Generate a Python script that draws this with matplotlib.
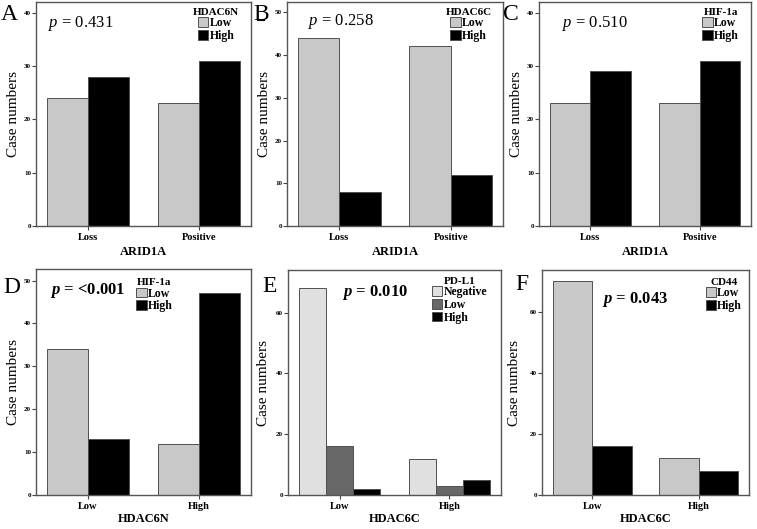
import matplotlib
matplotlib.use('Agg')
import matplotlib.pyplot as plt
from matplotlib.lines import Line2D
import numpy as np

plt.rcParams['font.family'] = ['Liberation Serif', 'DejaVu Serif']
plt.rcParams['mathtext.fontset'] = 'custom'
plt.rcParams['mathtext.rm'] = 'Liberation Serif'
plt.rcParams['mathtext.it'] = 'Liberation Serif:italic'
plt.rcParams['mathtext.bf'] = 'Liberation Serif:bold'
plt.rcParams['mathtext.bfit'] = 'Liberation Serif:italic:bold'

# Data per panel
cats_arid = ['Loss', 'Positive']
cats_hdac = ['Low', 'High']

a_low = [24, 23]
a_high = [28, 31]

b_low = [44, 42]
b_high = [8, 12]

c_low = [23, 23]
c_high = [29, 31]

d_low = [34, 12]
d_high = [13, 47]

e_neg = [68, 12]
e_low = [16, 3]
e_high = [2, 5]

f_low = [70, 12]
f_high = [16, 8]

W, H = 757, 529
fig = plt.figure(figsize=(W / 100, H / 100), dpi=100)

LIGHT = '#c8c8c8'
LIGHTER = '#e0e0e0'
DARK = '#686868'
BLACK = '#000000'
EDGE = '#505050'


def make_ax(x0, x1, y0, y1):
    return fig.add_axes([x0 / W, 1 - y1 / H, (x1 - x0) / W, (y1 - y0) / H])


def style(ax, ymax, yticks, cats, xlabel, lab_x, lpad=3):
    ax.set_xlim(-0.47, 1.47)
    ax.set_ylim(0, ymax)
    ax.set_yticks(yticks)
    ax.set_xticks(range(len(cats)))
    ax.set_xticklabels(cats, fontsize=7.5, fontweight='bold')
    ax.tick_params(axis='y', labelsize=5, length=3, pad=0.5, width=0.8, color='#444444')
    ax.tick_params(axis='x', length=3, pad=2, width=0.8, color='#444444')
    for t in ax.get_yticklabels():
        t.set_fontweight('bold')
    for s in ax.spines.values():
        s.set_color('#555555')
        s.set_linewidth(1.0)
    ax.set_xlabel(xlabel, fontsize=9, fontweight='bold', labelpad=lpad)
    ax.set_ylabel('Case numbers', fontsize=11)
    ax.yaxis.set_label_coords(lab_x, 0.5)


def bars2(ax, low, high):
    x = np.arange(len(low))
    w = 0.37
    ax.bar(x - w / 2, low, w, color=LIGHT, edgecolor=EDGE, linewidth=0.7, label='Low')
    ax.bar(x + w / 2, high, w, color=BLACK, edgecolor=EDGE, linewidth=0.7, label='High')


def legend(ax, title, x, y):
    leg = ax.legend(title=title, loc='upper left', bbox_to_anchor=(x, y), frameon=False,
                    prop={'size': 8.5, 'weight': 'bold'}, title_fontproperties={'size': 8, 'weight': 'bold'},
                    handlelength=0.9, handleheight=0.9, handletextpad=0.1, labelspacing=0.05,
                    borderpad=0, borderaxespad=0)
    return leg


# A
ax = make_ax(36, 251, 2, 226)
bars2(ax, a_low, a_high)
style(ax, 42, [0, 10, 20, 30, 40], cats_arid, 'ARID1A', -0.075)
legend(ax, 'HDAC6N', 0.73, 0.975)
ax.text(0.055, 0.905, '$\\mathit{p}$ = 0.431', transform=ax.transAxes, fontsize=12, va='center')

# B
ax = make_ax(287, 503, 2, 226)
bars2(ax, b_low, b_high)
style(ax, 52.4, [0, 10, 20, 30, 40, 50], cats_arid, 'ARID1A', -0.075)
legend(ax, 'HDAC6C', 0.735, 0.975)
ax.text(0.097, 0.915, '$\\mathit{p}$ = 0.258', transform=ax.transAxes, fontsize=12, va='center')

# C
ax = make_ax(539, 751, 2, 226)
bars2(ax, c_low, c_high)
style(ax, 42, [0, 10, 20, 30, 40], cats_arid, 'ARID1A', -0.075)
legend(ax, 'HIF-1a', 0.77, 0.975)
ax.text(0.108, 0.905, '$\\mathit{p}$ = 0.510', transform=ax.transAxes, fontsize=12, va='center')

# D
ax = make_ax(36, 251, 269, 495)
bars2(ax, d_low, d_high)
style(ax, 52.7, [0, 10, 20, 30, 40, 50], cats_hdac, 'HDAC6N', -0.075, lpad=1.5)
legend(ax, 'HIF-1a', 0.465, 0.96)
ax.text(0.065, 0.905, '$\\mathbfit{p}$ = <0.001', transform=ax.transAxes, fontsize=12,
        fontweight='bold', va='center')

# E
ax = make_ax(288, 501, 270, 495)
x = np.arange(2)
w = 0.245
ax.bar(x - w, e_neg, w, color=LIGHTER, edgecolor=EDGE, linewidth=0.7, label='Negative')
ax.bar(x, e_low, w, color=DARK, edgecolor=EDGE, linewidth=0.7, label='Low')
ax.bar(x + w, e_high, w, color=BLACK, edgecolor=EDGE, linewidth=0.7, label='High')
style(ax, 74, [0, 20, 40, 60], cats_hdac, 'HDAC6C', -0.085, lpad=1.5)
legend(ax, 'PD-L1', 0.675, 0.97)
ax.text(0.254, 0.9, '$\\mathbfit{p}$ = 0.010', transform=ax.transAxes, fontsize=12,
        fontweight='bold', va='center')

# F
ax = make_ax(542, 749, 270, 495)
bars2(ax, f_low, f_high)
style(ax, 73.7, [0, 20, 40, 60], cats_hdac, 'HDAC6C', -0.1, lpad=1.5)
legend(ax, 'CD44', 0.79, 0.965)
ax.text(0.29, 0.867, '$\\mathbfit{p}$ = 0.043', transform=ax.transAxes, fontsize=12,
        fontweight='bold', va='center')

# Panel letters
for lab, px, py in [('A', 1, 4), ('B', 253, 4), ('C', 503, 4),
                    ('D', 3, 277), ('E', 262, 276), ('F', 515, 274)]:
    fig.text(px / W, 1 - py / H, lab, fontsize=17, va='top', ha='left')
# small dash mark under the B
fig.add_artist(Line2D([258 / W, 264 / W], [1 - 19.5 / H, 1 - 19.5 / H], color='black', lw=1.5,
                      transform=fig.transFigure))

fig.savefig('out.png', dpi=100)
